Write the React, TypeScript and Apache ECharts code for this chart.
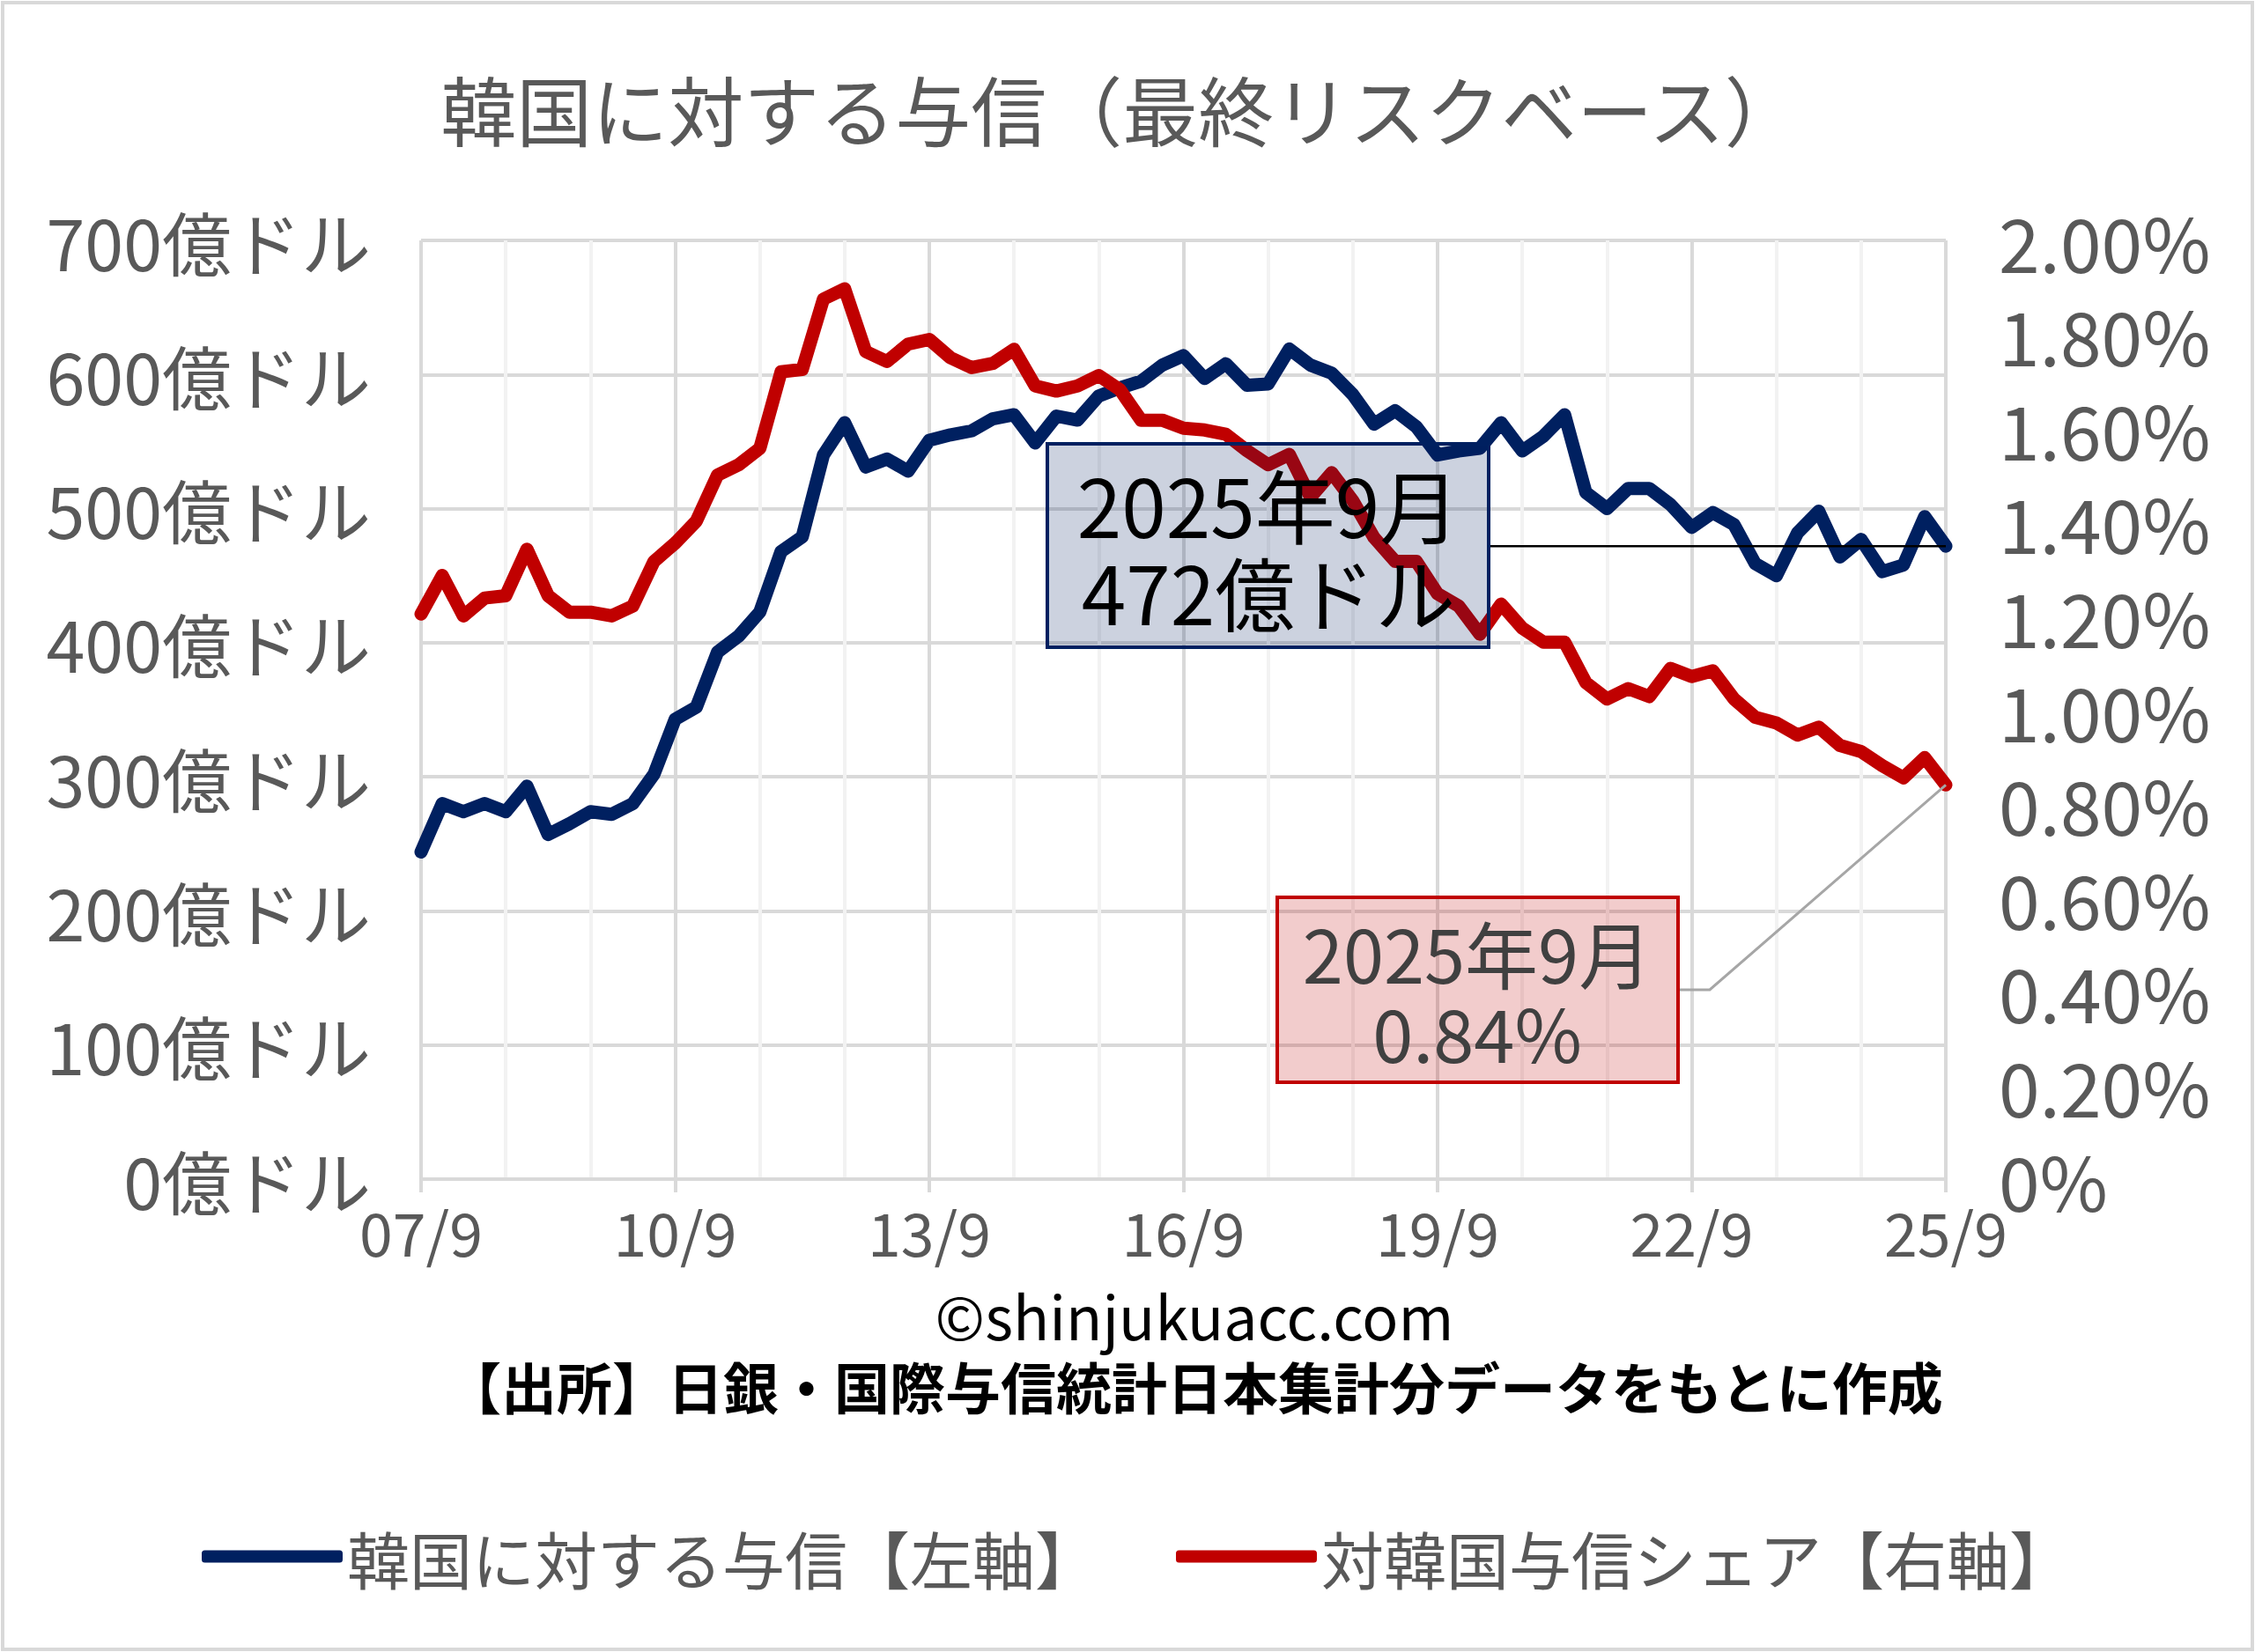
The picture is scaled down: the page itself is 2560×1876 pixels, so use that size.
import React, { useEffect, useRef } from 'react';
import * as echarts from 'echarts';

const FONT = "'Noto Sans CJK JP', 'Noto Sans', sans-serif";

const tickLabels = ['07/9', '10/9', '13/9', '16/9', '19/9', '22/9', '25/9'];

// quarterly categories 2007/9 .. 2025/9
const quarters: string[] = [];
for (let y = 2007; y <= 2025; y++) {
  for (const m of [3, 6, 9, 12]) {
    if ((y === 2007 && m < 9) || (y === 2025 && m > 9)) continue;
    quarters.push(`${String(y % 100).padStart(2, '0')}/${m}`);
  }
}

// 韓国に対する与信（億ドル）
const creditToKorea = [
  244, 280, 274, 280, 274, 293, 257, 265, 274, 272,
  280, 302, 343, 352, 393, 405, 423, 468, 479, 540,
  564, 531, 537, 528, 551, 555, 558, 567, 570, 549,
  569, 566, 584, 590, 595, 607, 614, 597, 608, 592,
  593, 619, 607, 601, 585, 563, 573, 561, 540, 543,
  545, 564, 543, 554, 570, 512, 500, 515, 515, 503,
  486, 497, 488, 459, 450, 482, 498, 464, 477, 453,
  458, 494, 472,
];

// 対韓国与信シェア（%）
const koreaShare = [
  1.204, 1.286, 1.2, 1.238, 1.243, 1.342, 1.243, 1.208, 1.208, 1.2,
  1.221, 1.316, 1.355, 1.402, 1.5, 1.522, 1.557, 1.72, 1.725, 1.875,
  1.897, 1.763, 1.742, 1.779, 1.789, 1.75, 1.729, 1.738, 1.768, 1.69,
  1.679, 1.69, 1.712, 1.682, 1.617, 1.617, 1.6, 1.596, 1.587, 1.552,
  1.522, 1.544, 1.453, 1.505, 1.445, 1.367, 1.316, 1.316, 1.247, 1.221,
  1.161, 1.225, 1.174, 1.144, 1.144, 1.058, 1.023, 1.045, 1.028, 1.088,
  1.071, 1.083, 1.023, 0.984, 0.972, 0.946, 0.963, 0.924, 0.911, 0.881,
  0.855, 0.898, 0.84,
];

const BLUE = '#002060';
const RED = '#c00000';
const GRID_DARK = '#d9d9d9';
const GRID_LIGHT = '#f2f2f2';
const LABEL = '#595959';

const nameBlue = '韓国に対する与信【左軸】';
const nameRed = '対韓国与信シェア【右軸】';

export default function App() {
  const ref = useRef<HTMLDivElement>(null);

  useEffect(() => {
    document.body.style.margin = '0';
    if (!ref.current) return;
    const chart = echarts.init(ref.current, undefined, { renderer: 'svg' });

    const option: any = {
      animation: false,
      backgroundColor: '#ffffff',
      grid: { left: 478, right: 351, top: 273, bottom: 537, containLabel: false },
      legend: {
        data: [
          { name: nameBlue, icon: 'roundRect' },
          { name: nameRed, icon: 'roundRect' },
        ],
        left: 229,
        top: 1732,
        itemWidth: 160,
        itemHeight: 14,
        itemGap: 89,
        padding: 0,
        textStyle: { fontSize: 71, color: LABEL, fontFamily: FONT },
      },
      xAxis: {
        type: 'category',
        data: quarters,
        boundaryGap: false,
        axisLine: { show: true, lineStyle: { color: GRID_DARK, width: 4 } },
        axisTick: {
          show: true,
          interval: (i: number) => i % 12 === 0,
          length: 15,
          lineStyle: { color: GRID_DARK, width: 4 },
        },
        axisLabel: {
          interval: (i: number) => i % 12 === 0,
          formatter: (v: string) => (tickLabels.includes(v) ? v : ''),
          color: LABEL,
          fontSize: 68,
          fontFamily: FONT,
          margin: 24,
        },
        splitLine: {
          show: true,
          interval: (i: number) => i % 4 === 0,
          lineStyle: { color: [GRID_DARK, GRID_LIGHT, GRID_LIGHT], width: 4 },
        },
      },
      yAxis: [
        {
          type: 'value',
          min: 0,
          max: 700,
          interval: 100,
          position: 'left',
          axisLine: { show: false },
          axisTick: { show: false },
          axisLabel: {
            formatter: (v: number) => `${v}億ドル`,
            color: LABEL,
            fontSize: 79,
            fontFamily: FONT,
            margin: 57,
          },
          splitLine: { show: true, lineStyle: { color: GRID_DARK, width: 4 } },
        },
        {
          type: 'value',
          min: 0,
          max: 2,
          interval: 0.2,
          position: 'right',
          axisLine: { show: false },
          axisTick: { show: false },
          axisLabel: {
            formatter: (v: number) => (v === 0 ? '0%' : `${v.toFixed(2)}%`),
            color: LABEL,
            fontSize: 84,
            fontFamily: FONT,
            margin: 60,
          },
          splitLine: { show: false },
        },
      ],
      series: [
        {
          name: nameBlue,
          type: 'line',
          data: creditToKorea,
          yAxisIndex: 0,
          symbol: 'none',
          showSymbol: false,
          lineStyle: { color: BLUE, width: 15, cap: 'round', join: 'round' },
          itemStyle: { color: BLUE },
          z: 2,
        },
        {
          name: nameRed,
          type: 'line',
          data: koreaShare,
          yAxisIndex: 1,
          symbol: 'none',
          showSymbol: false,
          lineStyle: { color: RED, width: 15, cap: 'round', join: 'round' },
          itemStyle: { color: RED },
          z: 3,
        },
      ],
    };

    chart.setOption(option);

    const last = quarters.length - 1;
    const pB = chart.convertToPixel({ xAxisIndex: 0, yAxisIndex: 0 }, [last, creditToKorea[last]]) as number[];
    const pR = chart.convertToPixel({ xAxisIndex: 0, yAxisIndex: 1 }, [last, koreaShare[last]]) as number[];

    const txt = (
      text: string,
      x: number,
      y: number,
      fontSize: number,
      fill: string,
      weight: any = 'normal',
      z = 100,
      lineHeight?: number,
    ) => ({
      type: 'text',
      x,
      y,
      z,
      style: {
        text,
        fontSize,
        fontFamily: FONT,
        fontWeight: weight,
        fill,
        lineHeight,
        align: 'center',
        verticalAlign: 'middle',
        textAlign: 'center',
        textVerticalAlign: 'middle',
      },
    });

    chart.setOption({
      graphic: [
        {
          type: 'rect',
          z: 0,
          shape: { x: 3, y: 3, width: 2554, height: 1870 },
          style: { fill: 'none', stroke: GRID_DARK, lineWidth: 4 },
        },
        txt('韓国に対する与信（最終リスクベース）', 1272, 122, 86, LABEL, 'normal', 10),
        {
          type: 'text',
          x: 1356,
          y: 1532,
          z: 10,
          style: {
            text: '{a|©shinjukuacc.com}\n{b|【出所】日銀・国際与信統計日本集計分データをもとに作成}',
            align: 'center',
            verticalAlign: 'middle',
            textAlign: 'center',
            textVerticalAlign: 'middle',
            rich: {
              a: { fontSize: 68, fontFamily: FONT, fill: '#000000', lineHeight: 80, align: 'center' },
              b: { fontSize: 63, fontFamily: FONT, fontWeight: 'bold', fill: '#000000', lineHeight: 80, align: 'center' },
            },
          },
        },
        // blue annotation
        {
          type: 'line',
          z: 100,
          shape: { x1: 1690, y1: pB[1], x2: pB[0], y2: pB[1] },
          style: { stroke: '#000000', lineWidth: 2.5 },
        },
        {
          type: 'rect',
          z: 100,
          shape: { x: 1189, y: 504, width: 501, height: 231 },
          style: { fill: 'rgba(0,32,96,0.2)', stroke: BLUE, lineWidth: 4 },
        },
        txt(`2025年9月\n${creditToKorea[last]}億ドル`, 1440, 620, 91, '#000000', 'normal', 101, 99),
        // red annotation
        {
          type: 'polyline',
          z: 100,
          shape: { points: [[1905, 1124], [1941, 1124], [pR[0], pR[1]]] },
          style: { stroke: '#a6a6a6', lineWidth: 3, fill: 'none' },
        },
        {
          type: 'rect',
          z: 100,
          shape: { x: 1450, y: 1019, width: 455, height: 210 },
          style: { fill: 'rgba(192,0,0,0.2)', stroke: RED, lineWidth: 4 },
        },
        txt(`2025年9月\n${koreaShare[last].toFixed(2)}%`, 1677, 1126, 83, '#404040', 'normal', 101, 90),
      ],
    });

    return () => {
      chart.dispose();
    };
  }, []);

  return <div ref={ref} style={{ width: 2560, height: 1876 }} />;
}
